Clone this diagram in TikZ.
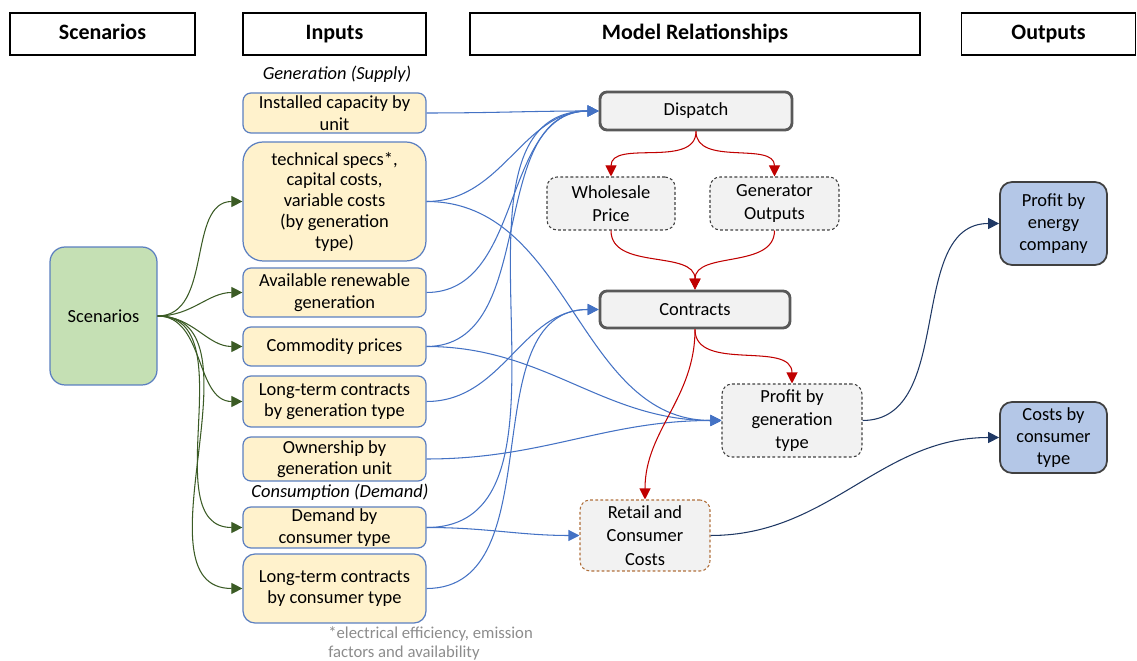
\documentclass[tikz,border=0pt]{standalone}
\usepackage{fontspec}
\setmainfont{Carlito}
\usetikzlibrary{arrows.meta}
\definecolor{inpF}{HTML}{FFF2CC}
\definecolor{inpD}{HTML}{5B7FC0}
\definecolor{scnF}{HTML}{C5E0B4}
\definecolor{relF}{HTML}{F2F2F2}
\definecolor{relD}{HTML}{595959}
\definecolor{outF}{HTML}{B4C7E7}
\definecolor{rtlD}{HTML}{B0703C}
\definecolor{arB}{HTML}{4472C4}
\definecolor{arR}{HTML}{C00000}
\definecolor{arG}{HTML}{3B5B25}
\definecolor{arN}{HTML}{1F3864}

\begin{document}
\begin{tikzpicture}[x=0.02cm,y=-0.02cm,>={Triangle[length=2.2mm,width=2.2mm]},
  every node/.style={font=\fontsize{10.5}{12.3}\selectfont,align=center,inner sep=0pt},
  hdr/.style={draw,line width=0.8pt,minimum width=#1,minimum height=0.84cm,text height=1.6ex,text depth=0.35ex,font=\fontsize{12.5}{14}\selectfont\bfseries},
  inbox/.style={draw=inpD,fill=inpF,line width=0.7pt,rounded corners=1.6mm,minimum width=3.66cm,minimum height=#1},
  relbox/.style={draw=relD,fill=relF,line width=1.6pt,rounded corners=1.4mm,minimum width=3.84cm,minimum height=0.76cm},
  tmpbox/.style={draw=black!75,fill=relF,line width=0.6pt,dash pattern=on 1.6pt off 1.3pt,rounded corners=2mm,font=\fontsize{10.5}{13.2}\selectfont},
  outbox/.style={draw=black!75,fill=outF,line width=1pt,rounded corners=2.4mm,minimum width=2.14cm,minimum height=#1},
  blu/.style={->,arB,line width=0.6pt},
  rd/.style={->,arR,line width=0.6pt},
  grn/.style={->,arG,line width=0.6pt},
  nvy/.style={->,arN,line width=0.6pt}]
\useasboundingbox (0,0) rectangle (1137,661);

\node[hdr=3.7cm] (hscen) at (102.5,34) {Scenarios};
\node[hdr=3.66cm] (hinp) at (334.5,34) {Inputs};
\node[hdr=9cm] (hmod) at (695,34) {Model Relationships};
\node[hdr=3.48cm] (hout) at (1048.5,34) {Outputs};

\node[font=\fontsize{10.5}{12}\selectfont\itshape] (lgen) at (337,74) {Generation (Supply)};
\node[inbox=0.8cm] (inst) at (334.5,113) {Installed capacity by\\unit};
\node[inbox=2.38cm,rounded corners=4mm,font=\fontsize{10.5}{11.8}\selectfont] (tech) at (334.5,201.5) {technical specs*,\\capital costs,\\variable costs\\(by generation\\type)};
\node[inbox=0.98cm] (renew) at (334.5,292.5) {Available renewable\\generation};
\node[inbox=0.78cm] (comm) at (334.5,346.5) {Commodity prices};
\node[inbox=1.02cm] (ltgen) at (334.5,401.5) {Long-term contracts\\by generation type};
\node[inbox=0.88cm] (own) at (334.5,459) {Ownership by\\generation unit};
\node[font=\fontsize{10.5}{12}\selectfont\itshape] (lcons) at (340,492) {Consumption (Demand)};
\node[inbox=0.82cm] (dem) at (334.5,527.5) {Demand by\\consumer type};
\node[inbox=1.38cm,rounded corners=2.4mm] (ltcons) at (334.5,588.5) {Long-term contracts\\by consumer type};
\node[anchor=north west,align=left,text=black!45,font=\fontsize{9.5}{10.8}\selectfont] (fnote) at (328,626) {*electrical efficiency, emission\\factors and availability};

\node[draw=inpD,fill=scnF,line width=0.7pt,rounded corners=3mm,minimum width=2.14cm,minimum height=2.76cm] (scen) at (103.5,316) {Scenarios};

\node[relbox] (disp) at (696,111) {Dispatch};
\node[tmpbox,minimum width=2.56cm,minimum height=1.06cm] (whole) at (611,203.5) {Wholesale\\Price};
\node[tmpbox,minimum width=2.58cm,minimum height=1.06cm] (genout) at (774.5,203.5) {Generator\\Outputs};
\node[relbox,minimum width=3.8cm,minimum height=0.74cm] (contr) at (695,309.5) {Contracts};
\node[tmpbox,minimum width=2.8cm,minimum height=1.46cm] (profgen) at (792,420.5) {Profit by\\generation\\type};
\node[tmpbox,draw=rtlD,minimum width=2.6cm,minimum height=1.42cm] (retail) at (645,535.5) {Retail and\\Consumer\\Costs};

\node[outbox=1.66cm] (profco) at (1053.5,223.5) {Profit by\\energy\\company};
\node[outbox=1.42cm] (costs) at (1053.5,437.5) {Costs by\\consumer\\type};

\foreach \t in {tech,renew,comm,ltgen,dem,ltcons}
  \draw[grn] (scen.east) to[out=0,in=180] (\t.west);
\foreach \s in {inst,tech,renew,comm,dem}
  \draw[blu] (\s.east) to[out=0,in=180] (disp.west);
\foreach \s in {tech,comm,own}
  \draw[blu] (\s.east) to[out=0,in=180] (profgen.west);
\foreach \s in {ltgen,ltcons}
  \draw[blu] (\s.east) to[out=0,in=180] (contr.west);
\draw[blu] (dem.east) to[out=0,in=180] (retail.west);

\draw[rd] (disp.south) to[out=-90,in=90] (whole.north);
\draw[rd] (disp.south) to[out=-90,in=90] (genout.north);
\draw[rd] (whole.south) to[out=-90,in=90] (contr.north);
\draw[rd] (genout.south) to[out=-90,in=90] (contr.north);
\draw[rd] (contr.south) to[out=-90,in=90] (profgen.north);
\draw[rd] (contr.south) to[out=-90,in=90] (retail.north);

\draw[nvy] (profgen.east) to[out=0,in=180] (profco.west);
\draw[nvy] (retail.east) to[out=0,in=180] (costs.west);
\end{tikzpicture}
\end{document}
